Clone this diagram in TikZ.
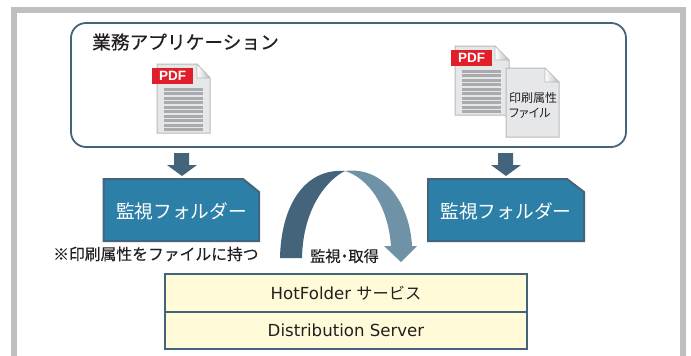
\documentclass[tikz,border=0pt]{standalone}
\usepackage{fontspec}
\setmainfont{Noto Sans CJK JP}
\newfontfamily\midf[FakeBold=0.35]{Noto Sans CJK JP}
\newfontfamily\palf[RawFeature=+palt]{Noto Sans CJK JP}
\newfontfamily\latinf{DejaVu Sans}
\newfontfamily\pdff{Liberation Sans}
\definecolor{slateb}{HTML}{44647C}
\definecolor{lightb}{HTML}{7092A6}
\definecolor{folderb}{HTML}{2C80A8}
\definecolor{framegray}{HTML}{BDBFC1}
\definecolor{docgray}{HTML}{E6E7E9}
\definecolor{docedge}{HTML}{B8BABC}
\definecolor{linegray}{HTML}{A9ABAE}
\definecolor{pdfred}{HTML}{E01F2B}
\definecolor{boxyellow}{HTML}{FFFAD8}
\definecolor{inktext}{HTML}{231F20}
\tikzset{
  x=1pt,y=-1pt,
  docpage/.style={draw=docedge,line width=1pt,fill=docgray},
  docfold/.style={draw=docedge,line width=.6pt,left color=white,right color=docedge},
  pdftag/.style={fill=pdfred,text=white,inner sep=0pt,minimum width=41pt,minimum height=16pt,font=\pdff\fontsize{13.5}{14}\selectfont\bfseries},
  foldershape/.style={draw=slateb,line width=2pt,fill=folderb},
  foldertext/.style={text=white,font=\fontsize{18.7}{20}\selectfont},
  dnarrow/.style={fill=slateb},
  smalltext/.style={text=inktext,font=\midf\fontsize{15.8}{17}\selectfont},
  stack/.style={draw=slateb,line width=2pt,fill=boxyellow,minimum width=362pt,minimum height=37.5pt,inner sep=0pt,anchor=north west,text=inktext,font=\latinf\fontsize{16.6}{18}\selectfont},
}
\begin{document}
\begin{tikzpicture}
\useasboundingbox (0,0) rectangle (691,356);
\fill[white] (0,0) rectangle (691,356);
% outer frame
\draw[framegray,line width=5.7pt] (14,359) -- (14,10.2) -- (683,10.2) -- (683,359);
% application box
\draw[slateb,line width=1.8pt,rounded corners=15pt,fill=white] (71,23) rectangle (626,147);
\node[anchor=west,inner sep=0pt,text=inktext,font=\midf\fontsize{18.7}{20}\selectfont] (apptitle) at (92,42) {業務アプリケーション};
% document 1
\draw[docpage] (157,64) -- (197,64) -- (210,78) -- (210,133) -- (157,133) -- cycle;
\draw[docfold] (197,64) -- (197,78) -- (210,78) -- cycle;
\foreach \i in {0,...,9} \fill[linegray] (164,88+4.45*\i) rectangle (203,91+4.45*\i);
\node[pdftag] (pdfa) at (172.5,76) {PDF};
% document 2
\draw[docpage] (455,46) -- (495,46) -- (509,60) -- (509,115) -- (455,115) -- cycle;
\draw[docfold] (495,46) -- (495,60) -- (509,60) -- cycle;
\foreach \i in {0,...,9} \fill[linegray] (462,70+4.45*\i) rectangle (501,73+4.45*\i);
\node[pdftag] (pdfb) at (471.5,58) {PDF};
% attribute file
\draw[docpage] (506,68) -- (545,68) -- (559,82) -- (559,137) -- (506,137) -- cycle;
\draw[docfold] (545,68) -- (545,82) -- (559,82) -- cycle;
\node[inner sep=0pt,text=inktext,align=left,anchor=center,font=\fontsize{12}{15}\selectfont] (attr) at (533,105.5) {印刷属性\\{\palf ファイル}};
% down arrows
\fill[dnarrow] (174,153) -- (189,153) -- (189,165) -- (197,165) -- (182,176) -- (167,165) -- (174,165) -- cycle;
\fill[dnarrow] (498,153) -- (513,153) -- (513,165) -- (521,165) -- (506,176) -- (491,165) -- (498,165) -- cycle;
% folders
\draw[foldershape] (103.5,179) -- (243,179) -- (259,192) -- (259,241) -- (103.5,241) -- cycle;
\node[foldertext] (fa) at (181.5,211) {監視フォルダー};
\draw[foldershape] (428,179) -- (567,179) -- (584,192) -- (584,241) -- (428,241) -- cycle;
\node[foldertext] (fb) at (506,211) {監視フォルダー};
% notes
\node[smalltext,anchor=west,inner sep=0pt] (note) at (53,254) {※印刷属性をファイルに持つ};
\node[smalltext,inner sep=0pt,font=\midf\fontsize{15.3}{17}\selectfont] (watch) at (344.5,256) {監視\kern-.25em・\kern-.25em取得};
% curved arrow
\fill[slateb] (280,258) .. controls (281,205) and (305,168) .. (345,171) .. controls (330,178) and (303,205) .. (302,258) -- cycle;
\fill[lightb] (345,171) .. controls (385,166) and (410,205) .. (412,246) -- (417,246) -- (401,262) -- (384,246) -- (391,246) .. controls (388,205) and (368,178) .. (345,171) -- cycle;
% server stack
\node[stack] (hot) at (164,273) {HotFolder {\rmfamily\fontsize{16.2}{18}\selectfont サービス}};
\node[stack] (dist) at (164,310.5) {Distribution Server};
\end{tikzpicture}
\end{document}
